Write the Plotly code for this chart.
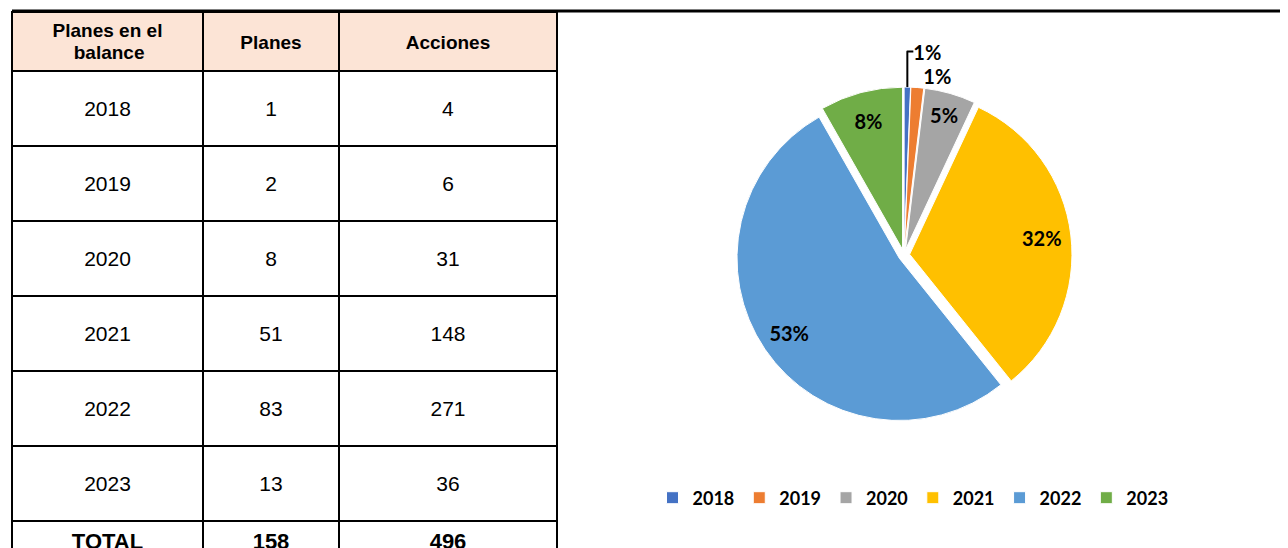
import plotly.graph_objects as go

# datos
years = ["2018", "2019", "2020", "2021", "2022", "2023"]
planes = [1, 2, 8, 51, 83, 13]
acciones = [4, 6, 31, 148, 271, 36]
colors = ["#4472C4", "#ED7D31", "#A5A5A5", "#FFC000", "#5B9BD5", "#70AD47"]
header = ["Planes en el", "balance", "Planes", "Acciones"]

# the page body adds an 8px margin, so the figure is 8px smaller than the window
W, H = 1280, 540
sans = "Liberation Sans, Arial"


def span(t, size):
    return "<span style='font-size:%dpx'>%s</span>" % (size, t)


# plotly tables put text at the top of the cell: an nbsp line pushes it to the middle
def cell(v):
    return "&nbsp;<br>" + span(v, 21)


def total(v):
    return span("<b>%s</b>" % v, 22) + "<br>"


col_year = [cell(y) for y in years] + [total("TOTAL")]
col_planes = [cell(v) for v in planes] + [total(sum(planes))]
col_acc = [cell(v) for v in acciones] + [total(sum(acciones))]

head = [span("<b>%s</b>" % header[0], 19) + "<br>" + span("&nbsp;&nbsp;&nbsp;&nbsp;<b>%s</b>" % header[1], 19)] + \
       ["&nbsp;<br>" + span("<b>%s</b>" % h, 19) for h in header[2:]]

fig = go.Figure()

# tabla
fig.add_trace(go.Table(
    domain=dict(x=[4 / W, 549 / W], y=[0, 1 - 4 / H]),
    columnwidth=[191, 136, 218],
    header=dict(values=head,
                fill_color="#FCE4D6", line=dict(color="black", width=2),
                font=dict(family=sans, size=[17, 13, 13], color="black"),
                align="center", height=58),
    cells=dict(values=[col_year, col_planes, col_acc],
               fill_color="white", line=dict(color="black", width=2),
               font=dict(family=sans, size=17, color="black"),
               align="center", height=75),
))

pie_dom = dict(x=[727 / W, 1065 / W], y=[1 - 415 / H, 1 - 79 / H])
pct = "%{percent:.0%}"

# pastel
fig.add_trace(go.Pie(
    labels=years, values=planes,
    marker=dict(colors=colors, line=dict(color="white", width=1)),
    sort=False, direction="clockwise", rotation=0,
    pull=0.035,
    texttemplate=[pct, pct, "", "", "", ""],
    textposition="outside",
    textfont=dict(family="Lato", size=20, color="black", weight="bold"),
    domain=pie_dom,
    hoverinfo="label+value+percent",
))

# etiquetas interiores (anillo transparente para situarlas hacia el borde)
fig.add_trace(go.Pie(
    labels=years, values=planes, hole=0.64,
    marker=dict(colors=["rgba(0,0,0,0)"] * 6, line=dict(width=0)),
    sort=False, direction="clockwise", rotation=0,
    pull=0.035,
    texttemplate=["", "", pct, pct, pct, pct],
    textposition="inside", insidetextorientation="horizontal",
    textfont=dict(family="Lato", size=20, color="black", weight="bold"),
    domain=pie_dom, showlegend=False, hoverinfo="skip",
))

fig.add_shape(type="line", xref="paper", yref="paper",
              x0=4 / W, x1=1, y0=1 - 3 / H, y1=1 - 3 / H,
              line=dict(color="black", width=3))

fig.update_layout(
    width=W, height=H,
    margin=dict(l=0, r=0, t=0, b=0),
    paper_bgcolor="white", plot_bgcolor="white",
    legend=dict(orientation="h", x=905 / W, xanchor="center", y=1 - 490 / H, yanchor="middle",
                font=dict(family="Lato", size=18, color="black", weight="bold"),
                itemwidth=30),
)

fig.write_html("out.html")
